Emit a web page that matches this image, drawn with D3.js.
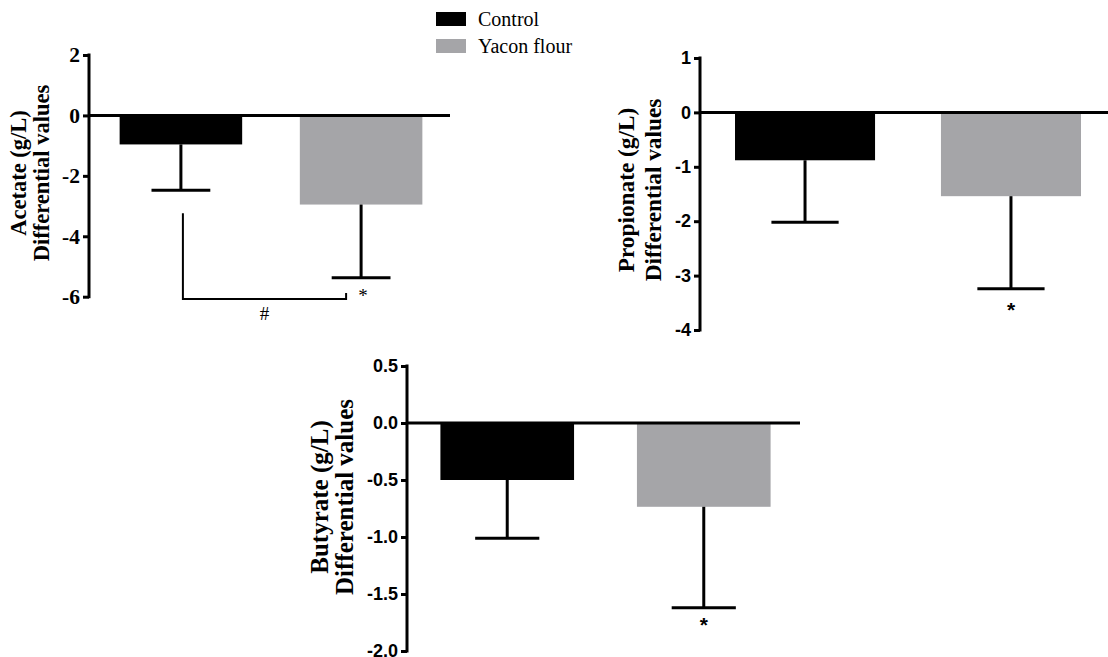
<!DOCTYPE html>
<html>
<head>
<meta charset="utf-8">
<script src="https://cdn.jsdelivr.net/npm/d3@7"></script>
<style>
  body { margin: 0; background: #fff; }
  svg { display: block; }
</style>
</head>
<body>
<svg id="chart" width="1108" height="657"></svg>
<script>
// groups shown in every panel
var groups = ["Control", "Yacon flour"];
var colors = ["#000000", "#a5a5a8"];

// acetate
var acetateMean = [-0.96, -2.95];
var acetateErr = [1.52, 2.42];
var acetateTicks = [2, 0, -2, -4, -6];

// propionate
var propionateMean = [-0.88, -1.54];
var propionateErr = [1.14, 1.70];
var propionateTicks = [1, 0, -1, -2, -3, -4];

// butyrate
var butyrateMean = [-0.50, -0.735];
var butyrateErr = [0.51, 0.885];
var butyrateTicks = [0.5, 0.0, -0.5, -1.0, -1.5, -2.0];

var svg = d3.select("svg#chart");

function drawPanel(cfg) {
	var g = svg.append("g");

	var x = d3.scaleBand()
		.domain(groups)
		.range([cfg.left, cfg.right])
		.paddingInner(0.32)
		.paddingOuter(0.17);

	var y = d3.scaleLinear()
		.domain(d3.extent(cfg.ticks))
		.range([cfg.bottom, cfg.top]);

	var data = groups.map(function(name, i) {
		return { name: name, mean: cfg.mean[i], err: cfg.err[i], color: colors[i] };
	});

	// bars
	g.selectAll(".bar")
		.data(data)
		.enter().append("rect")
		.attr("class", "bar")
		.attr("x", function(d) { return x(d.name); })
		.attr("width", x.bandwidth())
		.attr("y", y(0))
		.attr("height", function(d) { return y(d.mean) - y(0); })
		.style("fill", function(d) { return d.color; });

	// error bars (one-sided, downwards)
	var capW = x.bandwidth() * 0.48;
	var eb = g.selectAll(".err")
		.data(data)
		.enter().append("g")
		.attr("class", "err")
		.attr("stroke", "#000")
		.attr("stroke-width", 3);
	eb.append("line")
		.attr("x1", function(d) { return x(d.name) + x.bandwidth() / 2; })
		.attr("x2", function(d) { return x(d.name) + x.bandwidth() / 2; })
		.attr("y1", function(d) { return y(d.mean); })
		.attr("y2", function(d) { return y(d.mean - d.err); });
	eb.append("line")
		.attr("x1", function(d) { return x(d.name) + x.bandwidth() / 2 - capW / 2; })
		.attr("x2", function(d) { return x(d.name) + x.bandwidth() / 2 + capW / 2; })
		.attr("y1", function(d) { return y(d.mean - d.err); })
		.attr("y2", function(d) { return y(d.mean - d.err); });

	// zero line
	g.append("line")
		.attr("x1", cfg.left)
		.attr("x2", cfg.lineEnd)
		.attr("y1", y(0))
		.attr("y2", y(0))
		.attr("stroke", "#000")
		.attr("stroke-width", 3);

	// axis
	var axis = g.append("g")
		.attr("transform", "translate(" + cfg.left + ",0)")
		.call(d3.axisLeft(y)
			.tickValues(cfg.ticks)
			.tickSize(6)
			.tickSizeOuter(0)
			.tickPadding(3)
			.tickFormat(cfg.fmt));
	axis.selectAll("path, line")
		.attr("stroke", "#000")
		.attr("stroke-width", 3);
	axis.select(".domain").attr("d", "M0," + (cfg.bottom + 1.5) + "V" + (cfg.top - 1.5));
	axis.selectAll("text")
		.attr("fill", "#000")
		.style("font-family", cfg.tickFont)
		.style("font-weight", "bold")
		.style("font-size", cfg.tickSize + "px");

	// y label
	var lab = g.append("text")
		.attr("transform", "translate(" + cfg.labelX + "," + cfg.labelY + ") rotate(-90)")
		.attr("text-anchor", "middle")
		.style("font-family", "'Liberation Serif', 'Times New Roman', serif")
		.style("font-weight", "bold")
		.style("font-size", cfg.labelSize + "px");
	lab.append("tspan").attr("x", 0).attr("dy", 0).text(cfg.label[0]);
	lab.append("tspan").attr("x", 0).attr("dy", cfg.labelGap).text(cfg.label[1]);

	// significance star under the yacon bar
	var yac = data[1];
	g.append("text")
		.attr("x", x(yac.name) + x.bandwidth() / 2 + (cfg.starDx || 0))
		.attr("y", y(yac.mean - yac.err) + cfg.starDy)
		.attr("text-anchor", "middle")
		.style("font-family", cfg.tickFont)
		.style("font-weight", cfg.starWeight)
		.style("font-size", cfg.starSize + "px")
		.text("*");

	return { x: x, y: y, data: data, g: g };
}

var p1 = drawPanel({
	left: 89, right: 453, lineEnd: 450, top: 55, bottom: 296.7,
	mean: acetateMean, err: acetateErr, ticks: acetateTicks,
	fmt: function(d) { return String(d); },
	tickFont: "'Liberation Serif', 'Times New Roman', serif", tickSize: 21.5,
	label: ["Acetate (g/L)", "Differential values"],
	labelX: 26, labelY: 173, labelSize: 22.5, labelGap: 23,
	starDx: 2, starDy: 24, starSize: 19, starWeight: "normal"
});

// bracket between the two acetate groups (#)
var bx1 = p1.x(groups[0]) + p1.x.bandwidth() / 2 + 2;
var bx2 = p1.x(groups[1]) + p1.x.bandwidth() / 2 - 15;
var by = 299;
p1.g.append("path")
	.attr("d", "M" + bx1 + "," + (p1.y(acetateMean[0] - acetateErr[0]) + 23) + "V" + by + "H" + bx2 + "V" + (by - 6))
	.attr("fill", "none")
	.attr("stroke", "#000")
	.attr("stroke-width", 2);
p1.g.append("text")
	.attr("x", (bx1 + bx2) / 2)
	.attr("y", by + 21)
	.attr("text-anchor", "middle")
	.style("font-family", "'Liberation Serif', 'Times New Roman', serif")
	.style("font-size", "19px")
	.text("#");

drawPanel({
	left: 700, right: 1116, lineEnd: 1108, top: 58, bottom: 330,
	mean: propionateMean, err: propionateErr, ticks: propionateTicks,
	fmt: function(d) { return String(d); },
	tickFont: "'Liberation Sans', Arial, sans-serif", tickSize: 18,
	label: ["Propionate (g/L)", "Differential values"],
	labelX: 634, labelY: 190, labelSize: 23.3, labelGap: 27,
	starDy: 28, starSize: 21, starWeight: "bold"
});

drawPanel({
	left: 407, right: 804, lineEnd: 800, top: 366, bottom: 651,
	mean: butyrateMean, err: butyrateErr, ticks: butyrateTicks,
	fmt: function(d) { return d.toFixed(1); },
	tickFont: "'Liberation Sans', Arial, sans-serif", tickSize: 18,
	label: ["Butyrate (g/L)", "Differential values"],
	labelX: 328, labelY: 497, labelSize: 25, labelGap: 25,
	starDy: 24, starSize: 21, starWeight: "bold"
});

// legend
var legend = svg.append("g").selectAll(".leg")
	.data(groups)
	.enter().append("g")
	.attr("class", "leg")
	.attr("transform", function(d, i) { return "translate(436," + (12 + i * 27) + ")"; });
legend.append("rect")
	.attr("width", 30)
	.attr("height", 14)
	.style("fill", function(d, i) { return colors[i]; });
legend.append("text")
	.attr("x", 42)
	.attr("y", 14)
	.style("font-family", "'Liberation Serif', 'Times New Roman', serif")
	.style("font-size", "20px")
	.text(function(d) { return d; });
</script>
</body>
</html>
